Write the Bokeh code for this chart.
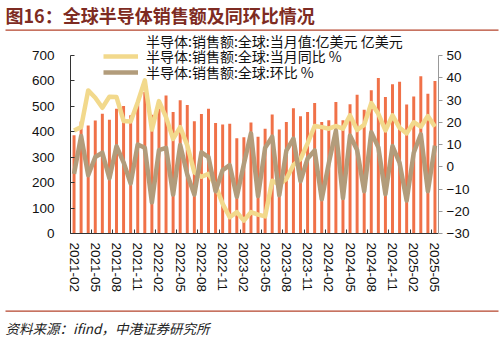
from bokeh.plotting import figure
from bokeh.layouts import column
from bokeh.models import Range1d, LinearAxis, FixedTicker, Legend, LegendItem, Label, BoxAnnotation
from bokeh.embed import file_html
from bokeh.resources import INLINE

months = ["2021-02", "2021-03", "2021-04", "2021-05", "2021-06", "2021-07", "2021-08", "2021-09",
          "2021-10", "2021-11", "2021-12", "2022-01", "2022-02", "2022-03", "2022-04", "2022-05",
          "2022-06", "2022-07", "2022-08", "2022-09", "2022-10", "2022-11", "2022-12", "2023-01",
          "2023-02", "2023-03", "2023-04", "2023-05", "2023-06", "2023-07", "2023-08", "2023-09",
          "2023-10", "2023-11", "2023-12", "2024-01", "2024-02", "2024-03", "2024-04", "2024-05",
          "2024-06", "2024-07", "2024-08", "2024-09", "2024-10", "2024-11", "2024-12", "2025-01",
          "2025-02", "2025-03", "2025-04", "2025-05"]

sales = [386, 440, 425, 444, 471, 447, 491, 501, 465, 510, 556, 467,
         503, 543, 478, 524, 505, 441, 470, 491, 435, 429, 432, 375,
         379, 437, 380, 412, 468, 409, 438, 493, 461, 478, 513, 438,
         445, 517, 445, 508, 546, 487, 563, 612, 537, 587, 597, 507,
         539, 618, 550, 600]

yoy = [16.3, 17.8, 34.3, 31.0, 26.5, 31.5, 31.3, 20.6, 20.3, 29.0, 38.8, 16.7,
       29.5, 22.3, 12.5, 17.8, 9.6, -2.5, -4.5, -3.2, -8.4, -16.7, -22.7, -20.4,
       -24.2, -20.4, -21.5, -22.3, -6.3, -8.0, -5.5, 0.8, 3.5, 10.5, 18.3, 17.8,
       17.1, 18.3, 17.1, 23.1, 16.5, 18.8, 28.6, 23.8, 16.3, 23.1, 17.5, 15.0,
       20.0, 18.0, 22.8, 18.0]

mom = [-3.2, 13.8, -3.8, 4.4, 6.3, -5.2, 9.2, 2.0, -7.5, 10.0, 8.5, -16.0,
       7.5, 8.5, -12.5, 9.8, -3.5, -12.5, 6.5, 4.3, -11.0, -1.5, 0.7, -13.5,
       1.2, 15.0, -13.2, 8.5, 13.5, -12.8, 7.2, 12.6, -6.5, 3.7, 7.3, -14.6,
       1.6, 16.2, -14.0, 14.0, 7.5, -11.0, 15.5, 8.7, -12.3, 9.3, 1.7, -15.2,
       6.3, 14.6, -11.0, 9.5]

left_ticks = [0, 100, 200, 300, 400, 500, 600, 700]
right_ticks = [-30, -20, -10, 0, 10, 20, 30, 40, 50]
label_every = 3

series_names = ["半导体:销售额:全球:当月值:亿美元 亿美元",
                "半导体:销售额:全球:当月同比 %",
                "半导体:销售额:全球:环比 %"]

title_text = "图16：全球半导体销售额及同环比情况"
source_text = "资料来源：ifind，中港证券研究所"

BAR_C = "#F07148"
YOY_C = "#F2D98C"
MOM_C = "#B29C7B"
DARK_RED = "#7E2B22"
LINE_RED = "#B5452C"
LATIN = "Liberation Sans"
CJK = "Noto Sans CJK SC"

W = 503
TOP_H = 31        # title strip
MAIN_H = 274      # chart strip
BOT_H = 340 - TOP_H - MAIN_H


def strip(h):
    f = figure(width=W, height=h, output_backend="svg", toolbar_location=None,
               x_range=Range1d(0, W), y_range=Range1d(0, h),
               min_border=0, min_border_left=0, min_border_right=0,
               min_border_top=0, min_border_bottom=0,
               x_axis_type=None, y_axis_type=None)
    f.frame_align = False
    f.outline_line_color = None
    f.xgrid.visible = False
    f.ygrid.visible = False
    f.background_fill_color = "white"
    f.border_fill_color = "white"
    return f


# ---- title strip
top = strip(TOP_H)
top.add_layout(Label(x=5, y=TOP_H - 14, text=title_text, text_font=CJK, text_font_style="bold",
                     text_font_size="18px", text_color=DARK_RED, text_baseline="middle"))
top.add_layout(BoxAnnotation(left=5, right=498, bottom=TOP_H - 30.2, top=TOP_H - 29,
                             fill_color=LINE_RED, fill_alpha=1, line_color=None))

# ---- main chart
frame_top = 0              # frame starts at the top of the main strip (y = 31)
frame_bottom = 233 - TOP_H
axis_top = 55 - TOP_H
scale = (frame_bottom - frame_top) / (frame_bottom - axis_top)
left_max = 700 * scale
right_max = -30 + 80 * scale

idx = list(range(len(months)))

p = figure(width=W, height=MAIN_H, output_backend="svg", toolbar_location=None,
           x_range=Range1d(-0.5, len(months) - 0.5), y_range=Range1d(0, left_max),
           min_border_left=70, min_border_right=65, min_border_top=frame_top,
           min_border_bottom=MAIN_H - frame_bottom,
           x_axis_type=None, y_axis_type=None)
p.frame_align = False
p.outline_line_color = None
p.background_fill_color = "white"
p.border_fill_color = "white"
p.xgrid.visible = False
p.ygrid.visible = False
p.extra_y_ranges = {"pct": Range1d(-30, right_max)}

bars = p.vbar(x=idx, top=sales, width=0.42, fill_color=BAR_C, line_color=None)
l_yoy = p.line(idx, yoy, y_range_name="pct", line_color=YOY_C, line_width=4.5, line_join="round")
l_mom = p.line(idx, mom, y_range_name="pct", line_color=MOM_C, line_width=4.5, line_join="round")
bar_key = p.line([], [], line_color=BAR_C, line_width=6, line_cap="butt")

xa = LinearAxis()
xa.ticker = FixedTicker(ticks=idx[::label_every],
                        minor_ticks=[i - 0.5 for i in idx[::label_every]])
xa.major_label_overrides = {i: months[i] for i in idx[::label_every]}
xa.major_label_orientation = "vertical"
xa.major_tick_in = 0
xa.major_tick_out = 0
xa.minor_tick_in = 4
xa.minor_tick_out = 0
xa.minor_tick_line_color = "#333333"
xa.axis_line_color = "#333333"
xa.major_label_standoff = 9
xa.major_label_text_font = LATIN
xa.major_label_text_font_size = "13.5px"
xa.major_label_text_color = "#111111"
p.add_layout(xa, "below")

ya = LinearAxis(bounds=(0, 700))
ya.ticker = FixedTicker(ticks=left_ticks)
ya.major_tick_in = 4
ya.major_tick_out = 0
ya.minor_tick_line_color = None
ya.axis_line_color = "#333333"
ya.major_tick_line_color = "#333333"
ya.major_label_standoff = 16
ya.major_label_text_font = LATIN
ya.major_label_text_font_size = "13.5px"
ya.major_label_text_color = "#111111"
p.add_layout(ya, "left")

ra = LinearAxis(y_range_name="pct", bounds=(-30, 50))
ra.ticker = FixedTicker(ticks=right_ticks)
ra.major_tick_in = 0
ra.major_tick_out = 4
ra.minor_tick_line_color = None
ra.axis_line_color = "#999999"
ra.major_tick_line_color = "#999999"
ra.major_label_standoff = 4
ra.major_label_text_font = LATIN
ra.major_label_text_font_size = "13.5px"
ra.major_label_text_color = "#111111"
p.add_layout(ra, "right")

# one legend per row, so each row sits where the reference has it
row_centres = [41.7, 56.7, 72.7]
for name, rend, cy in zip(series_names, [bar_key, l_yoy, l_mom], row_centres):
    lg = Legend(items=[LegendItem(label=name, renderers=[rend])],
                location=(33, 233 - cy - 9.5), orientation="vertical",
                glyph_width=35, glyph_height=14, label_height=14, spacing=0,
                label_standoff=8, padding=0, margin=0,
                border_line_color=None, background_fill_alpha=0,
                label_text_font=CJK, label_text_font_size="14px", label_text_color="#111111")
    p.add_layout(lg, "center")

# ---- source strip
bot = strip(BOT_H)
src_line = 310 - (TOP_H + MAIN_H)
bot.add_layout(BoxAnnotation(left=5, right=498, bottom=BOT_H - src_line - 1.2, top=BOT_H - src_line,
                             fill_color=LINE_RED, fill_alpha=1, line_color=None))
bot.add_layout(Label(x=5, y=BOT_H - (327 - (TOP_H + MAIN_H)), text=source_text, text_font=CJK,
                     text_font_style="italic", text_font_size="13.5px", text_color="#222222",
                     text_baseline="middle"))

layout = column(top, p, bot, spacing=0)
open("out.html", "w").write(file_html(layout, INLINE))
